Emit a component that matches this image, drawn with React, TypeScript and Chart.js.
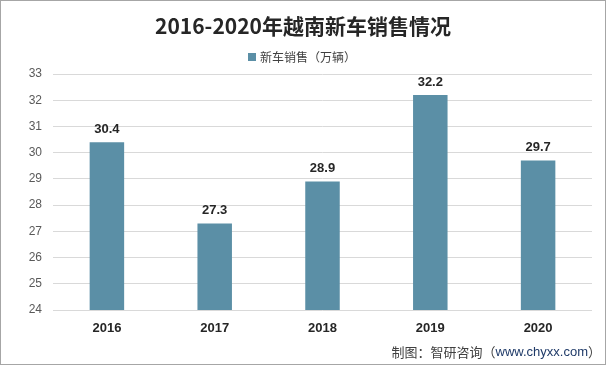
import React, { useEffect, useRef } from "react";
import { Chart, registerables } from "chart.js";

Chart.register(...registerables);

const categories = ["2016", "2017", "2018", "2019", "2020"];
const salesValues = [30.4, 27.3, 28.9, 32.2, 29.7];
const seriesName = "新车销售（万辆）";
const titleText = "2016-2020年越南新车销售情况";
const sourcePrefix = "制图：智研咨询（";
const sourceUrl = "www.chyxx.com";
const sourceSuffix = "）";
const yMin = 24;
const yMax = 33;

const BAR_COLOR = "#5b8fa6";
const CJK = '"Noto Sans CJK SC", "Noto Sans", sans-serif';
const LATIN = '"Liberation Sans", "Noto Sans CJK SC", sans-serif';

const decorPlugin = {
  id: "decor",
  beforeDraw(chart: any) {
    const { ctx, width, height } = chart;
    ctx.save();
    ctx.fillStyle = "#ffffff";
    ctx.fillRect(0, 0, width, height);
    ctx.restore();
  },
  afterDraw(chart: any) {
    const { ctx, width, height } = chart;
    ctx.save();
    // title
    ctx.fillStyle = "#262626";
    ctx.font = `bold 21px ${CJK}`;
    ctx.textAlign = "center";
    ctx.textBaseline = "middle";
    ctx.fillText(titleText, 303, 26);
    // legend
    ctx.fillStyle = BAR_COLOR;
    ctx.fillRect(248, 53, 8, 8);
    ctx.fillStyle = "#404040";
    ctx.font = `12px ${CJK}`;
    ctx.textAlign = "left";
    ctx.fillText(seriesName, 260, 57);
    // data labels
    const meta = chart.getDatasetMeta(0);
    ctx.font = `bold 13px ${LATIN}`;
    ctx.fillStyle = "#262626";
    ctx.textAlign = "center";
    meta.data.forEach((bar: any, i: number) => {
      ctx.fillText(salesValues[i].toFixed(1), bar.x, bar.y - 13);
    });
    // source
    ctx.textAlign = "left";
    ctx.font = `13px ${CJK}`;
    const w1 = ctx.measureText(sourcePrefix).width;
    ctx.font = `13px ${LATIN}`;
    const w2 = ctx.measureText(sourceUrl).width;
    ctx.font = `13px ${CJK}`;
    const w3 = ctx.measureText(sourceSuffix).width;
    let x = 601 - (w1 + w2 + w3);
    const y = 352;
    ctx.fillStyle = "#404040";
    ctx.fillText(sourcePrefix, x, y);
    x += w1;
    ctx.font = `13px ${LATIN}`;
    ctx.fillStyle = "#1f3a68";
    ctx.fillText(sourceUrl, x, y);
    x += w2;
    ctx.font = `13px ${CJK}`;
    ctx.fillStyle = "#404040";
    ctx.fillText(sourceSuffix, x, y);
    // border
    ctx.strokeStyle = "#a6a6a6";
    ctx.lineWidth = 1;
    ctx.strokeRect(0.5, 0.5, width - 1, height - 1);
    ctx.restore();
  },
};

export default function App() {
  const ref = useRef<HTMLCanvasElement | null>(null);
  useEffect(() => {
    if (!ref.current) return;
    const chart = new Chart(ref.current, {
      type: "bar",
      data: {
        labels: categories,
        datasets: [
          {
            label: seriesName,
            data: salesValues,
            backgroundColor: BAR_COLOR,
            borderColor: "#4d7f95",
            borderWidth: 0,
            categoryPercentage: 1,
            barPercentage: 0.32,
          },
        ],
      },
      options: {
        responsive: false,
        animation: false,
        layout: { padding: { left: 0, right: 14, top: 74, bottom: 25 } },
        plugins: {
          legend: { display: false },
          title: { display: false },
          tooltip: { enabled: false },
        },
        scales: {
          x: {
            grid: { display: false, drawTicks: false },
            border: { display: false },
            ticks: {
              padding: 11,
              color: "#262626",
              font: { family: LATIN, size: 13, weight: "bold" },
            },
            afterFit(scale: any) {
              scale.height = 30;
            },
          },
          y: {
            min: yMin,
            max: yMax,
            grid: { color: "#d9d9d9", drawTicks: false, lineWidth: 1 },
            border: { display: false },
            ticks: {
              stepSize: 1,
              padding: 11,
              color: "#595959",
              font: { family: LATIN, size: 12 },
            },
            afterFit(scale: any) {
              scale.width = 53;
            },
          },
        },
      },
      plugins: [decorPlugin],
    });
    return () => chart.destroy();
  }, []);
  return (
    <div style={{ position: "fixed", left: 0, top: 0, width: 606, height: 365 }}>
      <canvas ref={ref} width={606} height={365} style={{ display: "block" }} />
    </div>
  );
}
